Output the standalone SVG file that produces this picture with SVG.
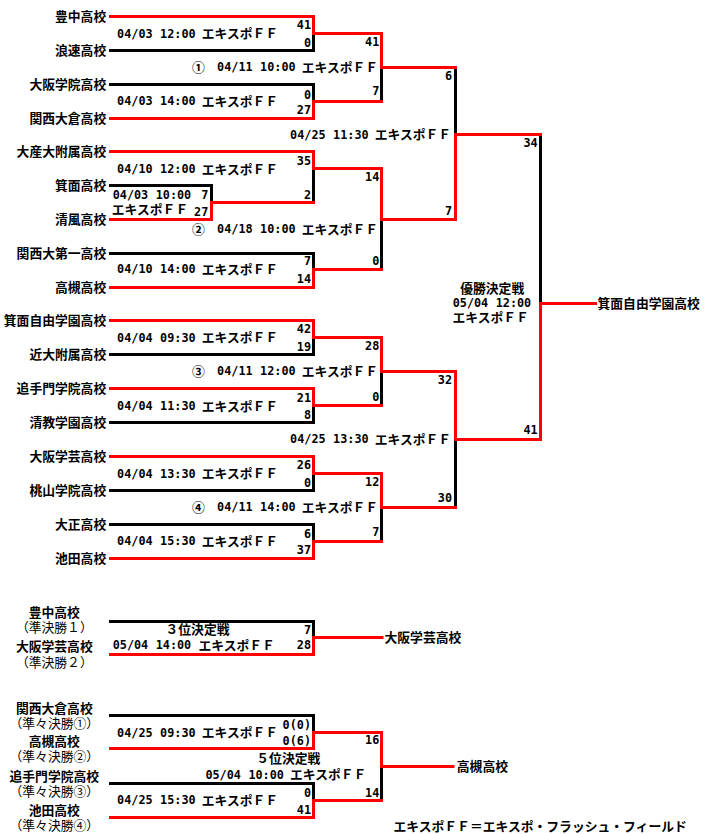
<svg xmlns="http://www.w3.org/2000/svg" width="704" height="834" viewBox="0 0 704 834">
<style>
.k{fill:none;stroke:#000;stroke-width:3;stroke-linecap:square;stroke-linejoin:miter}
.r{fill:none;stroke:#f00;stroke-width:3;stroke-linecap:square;stroke-linejoin:miter}
text{fill:#000}
.t{font-family:"Noto Sans CJK JP",sans-serif;font-size:12.8px;font-weight:bold;letter-spacing:0}
.tr{font-family:"Noto Sans CJK JP",sans-serif;font-size:12.8px;font-weight:normal;letter-spacing:0}
.n{font-family:"DejaVu Sans Mono","Liberation Mono",monospace;font-size:11.8px;font-weight:bold;letter-spacing:0}
.e{text-anchor:end}
.m{text-anchor:middle}
</style>
<rect width="704" height="834" fill="#fff"/>
<g id="connectors">
<path class="k" d="M110.5,50.5 H313.5 V33.5"/>
<path class="k" d="M110.5,84.5 H313.5 V101.5"/>
<path class="k" d="M381.5,101.5 V67.5"/>
<path class="k" d="M455.5,67.5 V134.5"/>
<path class="k" d="M540.5,134.5 V303.5"/>
<path class="k" d="M110.5,185.5 H211.5 V202.5"/>
<path class="k" d="M313.5,202.5 V168.5"/>
<path class="k" d="M110.5,253.5 H313.5 V269.5"/>
<path class="k" d="M381.5,269.5 V219.5"/>
<path class="k" d="M110.5,354.5 H313.5 V337.5"/>
<path class="k" d="M110.5,422.5 H313.5 V405.5"/>
<path class="k" d="M381.5,405.5 V371.5"/>
<path class="k" d="M455.5,507.5 V439.5"/>
<path class="k" d="M110.5,490.5 H313.5 V473.5"/>
<path class="k" d="M110.5,524.5 H313.5 V541.5"/>
<path class="k" d="M381.5,541.5 V507.5"/>
<path class="k" d="M110.5,621.5 H313.5 V637.5"/>
<path class="k" d="M110.5,715.5 H313.5 V732.5"/>
<path class="k" d="M110.5,783.5 H313.5 V800.5"/>
<path class="k" d="M381.5,800.5 V766.5"/>
<path class="r" d="M110.5,16.5 H313.5 V33.5 H381.5 V67.5 H455.5"/>
<path class="r" d="M110.5,118.5 H313.5 V101.5 H381.5"/>
<path class="r" d="M110.5,151.5 H313.5 V168.5 H381.5 V219.5 H455.5 V134.5 H540.5"/>
<path class="r" d="M110.5,219.5 H211.5 V202.5 H313.5"/>
<path class="r" d="M110.5,287.5 H313.5 V269.5 H381.5"/>
<path class="r" d="M110.5,320.5 H313.5 V337.5 H381.5 V371.5 H455.5 V439.5 H540.5 V303.5 H595.5"/>
<path class="r" d="M110.5,388.5 H313.5 V405.5 H381.5"/>
<path class="r" d="M110.5,456.5 H313.5 V473.5 H381.5 V507.5 H455.5"/>
<path class="r" d="M110.5,558.5 H313.5 V541.5 H381.5"/>
<path class="r" d="M110.5,654.5 H313.5 V637.5 H382"/>
<path class="r" d="M110.5,748.5 H313.5 V732.5 H381.5 V766.5 H453"/>
<path class="r" d="M110.5,817.5 H313.5 V800.5 H381.5"/>
</g>
<g id="teams">
<g id="team-toyonaka"><text class="t e" x="106.2" y="21.2">豊中高校</text></g>
<g id="team-naniwa"><text class="t e" x="106.2" y="55.2">浪速高校</text></g>
<g id="team-osakagakuin"><text class="t e" x="106.2" y="89.2">大阪学院高校</text></g>
<g id="team-kansaiokura"><text class="t e" x="106.2" y="123.2">関西大倉高校</text></g>
<g id="team-daisandai"><text class="t e" x="106.2" y="156.2">大産大附属高校</text></g>
<g id="team-mino"><text class="t e" x="106.2" y="190.2">箕面高校</text></g>
<g id="team-seifu"><text class="t e" x="106.2" y="224.2">清風高校</text></g>
<g id="team-kandaiichi"><text class="t e" x="106.2" y="258.2">関西大第一高校</text></g>
<g id="team-takatsuki"><text class="t e" x="106.2" y="292.2">高槻高校</text></g>
<g id="team-minojiyu"><text class="t e" x="106.2" y="325.2">箕面自由学園高校</text></g>
<g id="team-kindai"><text class="t e" x="106.2" y="359.2">近大附属高校</text></g>
<g id="team-otemon"><text class="t e" x="106.2" y="393.2">追手門学院高校</text></g>
<g id="team-seikyo"><text class="t e" x="106.2" y="427.2">清教学園高校</text></g>
<g id="team-osakagakugei"><text class="t e" x="106.2" y="461.2">大阪学芸高校</text></g>
<g id="team-momoyama"><text class="t e" x="106.2" y="495.2">桃山学院高校</text></g>
<g id="team-taisho"><text class="t e" x="106.2" y="529.2">大正高校</text></g>
<g id="team-ikeda"><text class="t e" x="106.2" y="563.2">池田高校</text></g>
</g>
<g id="match-a">
<text class="n" y="37.5"><tspan x="117.1">04/03 </tspan><tspan x="160.1">12:00 </tspan><tspan class="t" x="201.7" y="38.2">エキスポＦＦ</tspan></text>
<text class="n e" x="311" y="29.3">41</text><text class="n e" x="311" y="47">0</text>
</g>
<g id="match-b">
<text class="n" y="105"><tspan x="117.1">04/03 </tspan><tspan x="160.1">14:00 </tspan><tspan class="t" x="201.7" y="105.6">エキスポＦＦ</tspan></text>
<text class="n e" x="311" y="98.6">0</text><text class="n e" x="311" y="114.3">27</text>
</g>
<g id="match-r2-1">
<text class="t" x="192" y="71.6">①</text>
<text class="n" y="71"><tspan x="217.1">04/11 </tspan><tspan x="260.1">10:00 </tspan><tspan class="t" x="301.7" y="71.6">エキスポＦＦ</tspan></text>
<text class="n e" x="379.3" y="46">41</text><text class="n e" x="379.3" y="95">7</text>
</g>
<g id="match-pre">
<text class="n" y="199.3"><tspan x="112.7">04/03 </tspan><tspan x="155.7">10:00</tspan></text>
<text class="t" x="111.8" y="213.9">エキスポＦＦ</text>
<text class="n e" x="208.3" y="199.3">7</text><text class="n e" x="208.3" y="215.6">27</text>
</g>
<g id="match-c">
<text class="n" y="173.3"><tspan x="117.1">04/10 </tspan><tspan x="160.1">12:00 </tspan><tspan class="t" x="201.7" y="173.9">エキスポＦＦ</tspan></text>
<text class="n e" x="311" y="165.3">35</text><text class="n e" x="311" y="199.3">2</text>
</g>
<g id="match-d">
<text class="n" y="273.3"><tspan x="117.1">04/10 </tspan><tspan x="160.1">14:00 </tspan><tspan class="t" x="201.7" y="273.9">エキスポＦＦ</tspan></text>
<text class="n e" x="311" y="265.3">7</text><text class="n e" x="311" y="282.6">14</text>
</g>
<g id="match-r2-2">
<text class="t" x="192" y="233.9">②</text>
<text class="n" y="233.3"><tspan x="217.1">04/18 </tspan><tspan x="260.1">10:00 </tspan><tspan class="t" x="301.7" y="233.9">エキスポＦＦ</tspan></text>
<text class="n e" x="379.3" y="181">14</text><text class="n e" x="379.3" y="265.3">0</text>
</g>
<g id="match-e">
<text class="n" y="341.6"><tspan x="117.1">04/04 </tspan><tspan x="160.1">09:30 </tspan><tspan class="t" x="201.7" y="342.2">エキスポＦＦ</tspan></text>
<text class="n e" x="311" y="333.3">42</text><text class="n e" x="311" y="351">19</text>
</g>
<g id="match-f">
<text class="n" y="410"><tspan x="117.1">04/04 </tspan><tspan x="160.1">11:30 </tspan><tspan class="t" x="201.7" y="410.6">エキスポＦＦ</tspan></text>
<text class="n e" x="311" y="401.6">21</text><text class="n e" x="311" y="418.6">8</text>
</g>
<g id="match-r2-3">
<text class="t" x="192" y="375.9">③</text>
<text class="n" y="375.3"><tspan x="217.1">04/11 </tspan><tspan x="260.1">12:00 </tspan><tspan class="t" x="301.7" y="375.9">エキスポＦＦ</tspan></text>
<text class="n e" x="379.3" y="350.3">28</text><text class="n e" x="379.3" y="401">0</text>
</g>
<g id="match-g">
<text class="n" y="477.6"><tspan x="117.1">04/04 </tspan><tspan x="160.1">13:30 </tspan><tspan class="t" x="201.7" y="478.2">エキスポＦＦ</tspan></text>
<text class="n e" x="311" y="469.3">26</text><text class="n e" x="311" y="486.6">0</text>
</g>
<g id="match-h">
<text class="n" y="545.3"><tspan x="117.1">04/04 </tspan><tspan x="160.1">15:30 </tspan><tspan class="t" x="201.7" y="545.9">エキスポＦＦ</tspan></text>
<text class="n e" x="311" y="537.6">6</text><text class="n e" x="311" y="554.3">37</text>
</g>
<g id="match-r2-4">
<text class="t" x="192" y="511.6">④</text>
<text class="n" y="511"><tspan x="217.1">04/11 </tspan><tspan x="260.1">14:00 </tspan><tspan class="t" x="301.7" y="511.6">エキスポＦＦ</tspan></text>
<text class="n e" x="379.3" y="486">12</text><text class="n e" x="379.3" y="536">7</text>
</g>
<g id="match-semi-1">
<text class="n" y="138.6"><tspan x="290.1">04/25 </tspan><tspan x="333.1">11:30 </tspan><tspan class="t" x="374.7" y="139.2">エキスポＦＦ</tspan></text>
<text class="n e" x="452" y="80">6</text><text class="n e" x="452" y="215">7</text>
</g>
<g id="match-semi-2">
<text class="n" y="443.3"><tspan x="290.1">04/25 </tspan><tspan x="333.1">13:30 </tspan><tspan class="t" x="374.7" y="443.9">エキスポＦＦ</tspan></text>
<text class="n e" x="452" y="384.3">32</text><text class="n e" x="452" y="502.3">30</text>
</g>
<g id="match-final">
<text class="t m" x="492.2" y="292.6">優勝決定戦</text>
<text class="n" y="306.6"><tspan x="452.7">05/04 </tspan><tspan x="495.7">12:00</tspan></text>
<text class="t" x="452.5" y="321.6">エキスポＦＦ</text>
<text class="n e" x="537.7" y="146.6">34</text><text class="n e" x="537.7" y="434.3">41</text>
</g>
<g id="champion"><text class="t" x="597.5" y="308.2">箕面自由学園高校</text></g>
<g id="third-place">
<text class="t m" x="54.3" y="616.6">豊中高校</text>
<text class="tr m" x="54.3" y="632.2">（準決勝１）</text>
<text class="t m" x="54.3" y="650.9">大阪学芸高校</text>
<text class="tr m" x="54.3" y="666.6">（準決勝２）</text>
<text class="t m" x="197.5" y="634.2">３位決定戦</text>
<text class="n" y="649.3"><tspan x="112.7">05/04 </tspan><tspan x="155.7">14:00 </tspan><tspan class="t" x="198.5" y="649.9">エキスポＦＦ</tspan></text>
<text class="n e" x="311" y="633.6">7</text><text class="n e" x="311" y="649.3">28</text>
<text class="t" x="384.5" y="642.2">大阪学芸高校</text>
</g>
<g id="fifth-place">
<text class="t m" x="54.3" y="713.2">関西大倉高校</text>
<text class="tr m" x="54.3" y="728.2">（準々決勝①）</text>
<text class="t m" x="54.3" y="745.9">高槻高校</text>
<text class="tr m" x="54.3" y="760.9">（準々決勝②）</text>
<text class="t m" x="54.3" y="780.6">追手門学院高校</text>
<text class="tr m" x="54.3" y="795.9">（準々決勝③）</text>
<text class="t m" x="54.3" y="814.9">池田高校</text>
<text class="tr m" x="54.3" y="829.9">（準々決勝④）</text>
<text class="n" y="736.6"><tspan x="117.1">04/25 </tspan><tspan x="160.1">09:30 </tspan><tspan class="t" x="201.7" y="737.2">エキスポＦＦ</tspan></text>
<text class="n e" x="311" y="728.6">0(0)</text><text class="n e" x="311" y="745.3">0(6)</text>
<text class="n" y="804.3"><tspan x="117.1">04/25 </tspan><tspan x="160.1">15:30 </tspan><tspan class="t" x="201.7" y="804.9">エキスポＦＦ</tspan></text>
<text class="n e" x="311" y="796.6">0</text><text class="n e" x="311" y="814.3">41</text>
<text class="t m" x="288.3" y="762.6">５位決定戦</text>
<text class="n" y="778.6"><tspan x="205.4">05/04 </tspan><tspan x="248.4">10:00 </tspan><tspan class="t" x="290" y="779.2">エキスポＦＦ</tspan></text>
<text class="n e" x="379.3" y="744.3">16</text><text class="n e" x="379.3" y="796.6">14</text>
<text class="t" x="456.8" y="770.9">高槻高校</text>
</g>
<g id="legend"><text class="t" x="393.5" y="830.9">エキスポＦＦ＝エキスポ・フラッシュ・フィールド</text></g>
</svg>
